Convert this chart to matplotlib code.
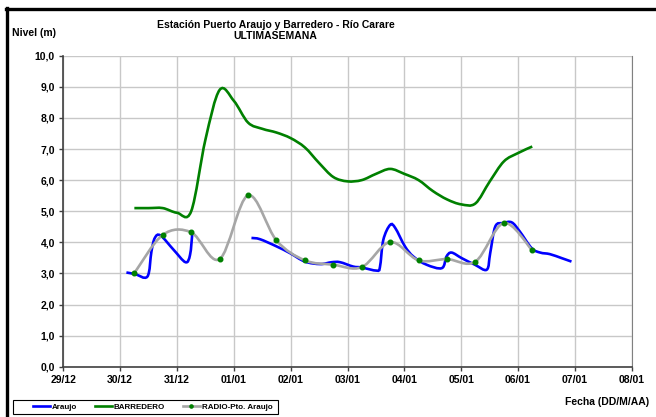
import numpy as np
import matplotlib
matplotlib.use("Agg")
import matplotlib.pyplot as plt
from matplotlib.path import Path
from matplotlib.patches import PathPatch, Rectangle
from matplotlib.lines import Line2D

plt.rcParams['font.family'] = ['Liberation Sans', 'DejaVu Sans']

# Data (x = days after 29/12)
day_labels = ["29/12", "30/12", "31/12", "01/01", "02/01", "03/01",
              "04/01", "05/01", "06/01", "07/01", "08/01"]

araujo_x = [1.11, 1.26, 1.48, 1.55, 1.61, 1.71, 1.94, 2.15, 2.23, 2.27,
            np.nan,
            3.31, 3.46, 3.75, 3.99, 4.25, 4.52, 4.72, 4.87, 5.10, 5.25, 5.51,
            5.57, 5.63, 5.75, 5.84, 6.01, 6.16, 6.39, 6.66, 6.74, 6.83, 7.01,
            7.24, 7.45, 7.51, 7.60, 7.74, 7.89, 8.03, 8.24, 8.39, 8.56, 8.77,
            8.94]
araujo_y = [3.03, 2.98, 2.90, 3.70, 4.14, 4.22, 3.76, 3.36, 3.60, 4.30,
            np.nan,
            4.14, 4.10, 3.87, 3.65, 3.38, 3.30, 3.36, 3.36, 3.22, 3.19, 3.09,
            3.20, 4.08, 4.56, 4.46, 3.87, 3.54, 3.28, 3.17, 3.54, 3.67, 3.49,
            3.28, 3.12, 3.65, 4.51, 4.62, 4.64, 4.35, 3.81, 3.67, 3.62, 3.49,
            3.38]

barr_x = [1.25, 1.5, 1.75, 2.0, 2.25, 2.5, 2.75, 3.0, 3.25, 3.5, 3.75,
          4.0, 4.25, 4.5, 4.75, 5.0, 5.25, 5.5, 5.75, 6.0, 6.25, 6.5, 6.75,
          7.0, 7.25, 7.5, 7.75, 8.0, 8.25]
barr_y = [5.10, 5.10, 5.10, 4.95, 5.00, 7.30, 8.90, 8.55, 7.85, 7.65, 7.53,
          7.35, 7.05, 6.55, 6.10, 5.96, 6.00, 6.20, 6.36, 6.20, 6.00, 5.65,
          5.38, 5.22, 5.25, 5.95, 6.60, 6.87, 7.08]

radio_x = [1.25, 1.75, 2.25, 2.75, 3.25, 3.75, 4.25, 4.75, 5.25, 5.75,
           6.25, 6.75, 7.25, 7.75, 8.25]
radio_y = [3.01, 4.24, 4.32, 3.46, 5.51, 4.06, 3.42, 3.28, 3.20, 4.01,
           3.42, 3.46, 3.38, 4.62, 3.74]


def smooth_path(xs, ys):
    # Excel-style smoothed line: cubic Bezier through every data point
    xs = np.asarray(xs, float)
    ys = np.asarray(ys, float)
    verts, codes = [], []
    seg = []
    for x, y in list(zip(xs, ys)) + [(np.nan, np.nan)]:
        if np.isnan(x):
            if len(seg) > 1:
                p = np.array(seg)
                n = len(p)
                verts.append(p[0])
                codes.append(Path.MOVETO)
                for i in range(n - 1):
                    p0 = p[i - 1] if i > 0 else p[i]
                    p3 = p[i + 2] if i + 2 < n else p[i + 1]
                    c1 = p[i] + (p[i + 1] - p0) / 6.0
                    c2 = p[i + 1] - (p3 - p[i]) / 6.0
                    verts += [c1, c2, p[i + 1]]
                    codes += [Path.CURVE4] * 3
            seg = []
        else:
            seg.append((x, y))
    return Path(verts, codes)


fig = plt.figure(figsize=(6.56, 4.17), dpi=100)
ax = fig.add_axes([0.0965, 0.1206, 0.8665, 0.7458])

ax.add_patch(PathPatch(smooth_path(araujo_x, araujo_y), facecolor='none',
                       edgecolor='#0000ff', lw=1.9, zorder=3))
ax.add_patch(PathPatch(smooth_path(barr_x, barr_y), facecolor='none',
                       edgecolor='#008000', lw=1.9, zorder=3))
ax.add_patch(PathPatch(smooth_path(radio_x, radio_y), facecolor='none',
                       edgecolor='#a6a6a6', lw=1.9, zorder=4))
ax.plot(radio_x, radio_y, ls='none', marker='o', ms=3.3, color='#008000',
        zorder=5)

ax.set_xlim(0, 10)
ax.set_ylim(0, 10)
ax.set_xticks(range(11))
ax.set_xticklabels(day_labels)
ax.set_yticks(range(11))
ax.set_yticklabels([f"{v:.1f}".replace(".", ",") for v in range(11)])
for lab in ax.get_xticklabels() + ax.get_yticklabels():
    lab.set_fontweight('bold')
    lab.set_fontsize(7.5)
ax.tick_params(direction='out', length=3, width=1, color='#404040', pad=3)
ax.grid(True, color='#c8c8c8', lw=1)
ax.set_axisbelow(True)
ax.spines['top'].set_visible(False)
ax.spines['right'].set_color('#808080')
ax.spines['left'].set_color('#404040')
ax.spines['bottom'].set_color('#404040')
ax.spines['left'].set_linewidth(1.2)
ax.spines['bottom'].set_linewidth(1.2)

fig.text(0.42, 0.94, "Estación Puerto Araujo y Barredero - Río Carare",
         ha='center', va='center', fontsize=7.5, fontweight='bold')
fig.text(0.42, 0.913, "ULTIMASEMANA", ha='center', va='center',
         fontsize=7.5, fontweight='bold')
fig.text(0.018, 0.921, "Nivel (m)", ha='left', va='center', fontsize=7.5,
         fontweight='bold')
fig.text(0.99, 0.035, "Fecha (DD/M/AA)", ha='right', va='center',
         fontsize=7.5, fontweight='bold')

# legend box drawn separately, entries without frame
fig.add_artist(Rectangle((0.0198, 0.0072), 0.404, 0.0336, fill=False,
                         edgecolor='black', lw=0.8,
                         transform=fig.transFigure))
handles = [Line2D([], [], color='#0000ff', lw=1.9),
           Line2D([], [], color='#008000', lw=1.9),
           Line2D([], [], color='#a6a6a6', lw=1.9, marker='o', ms=2.3,
                  markerfacecolor='#008000', markeredgecolor='#008000')]
fig.legend(handles, ["Araujo", "BARREDERO", "RADIO-Pto. Araujo"],
           ncol=3, loc='center left', bbox_to_anchor=(0.0503, 0.0245),
           borderaxespad=0, borderpad=0, frameon=False,
           handlelength=2.1, handletextpad=0.25, columnspacing=2.2,
           prop={'weight': 'bold', 'size': 5.8})

# outer frame
fig.add_artist(Line2D([0.011, 0.011], [0, 0.98], color='black', lw=2.4,
                      transform=fig.transFigure))
fig.add_artist(Line2D([0.009, 1], [0.978, 0.978], color='black', lw=2.4,
                      transform=fig.transFigure))

fig.savefig("out.png", dpi=100)
